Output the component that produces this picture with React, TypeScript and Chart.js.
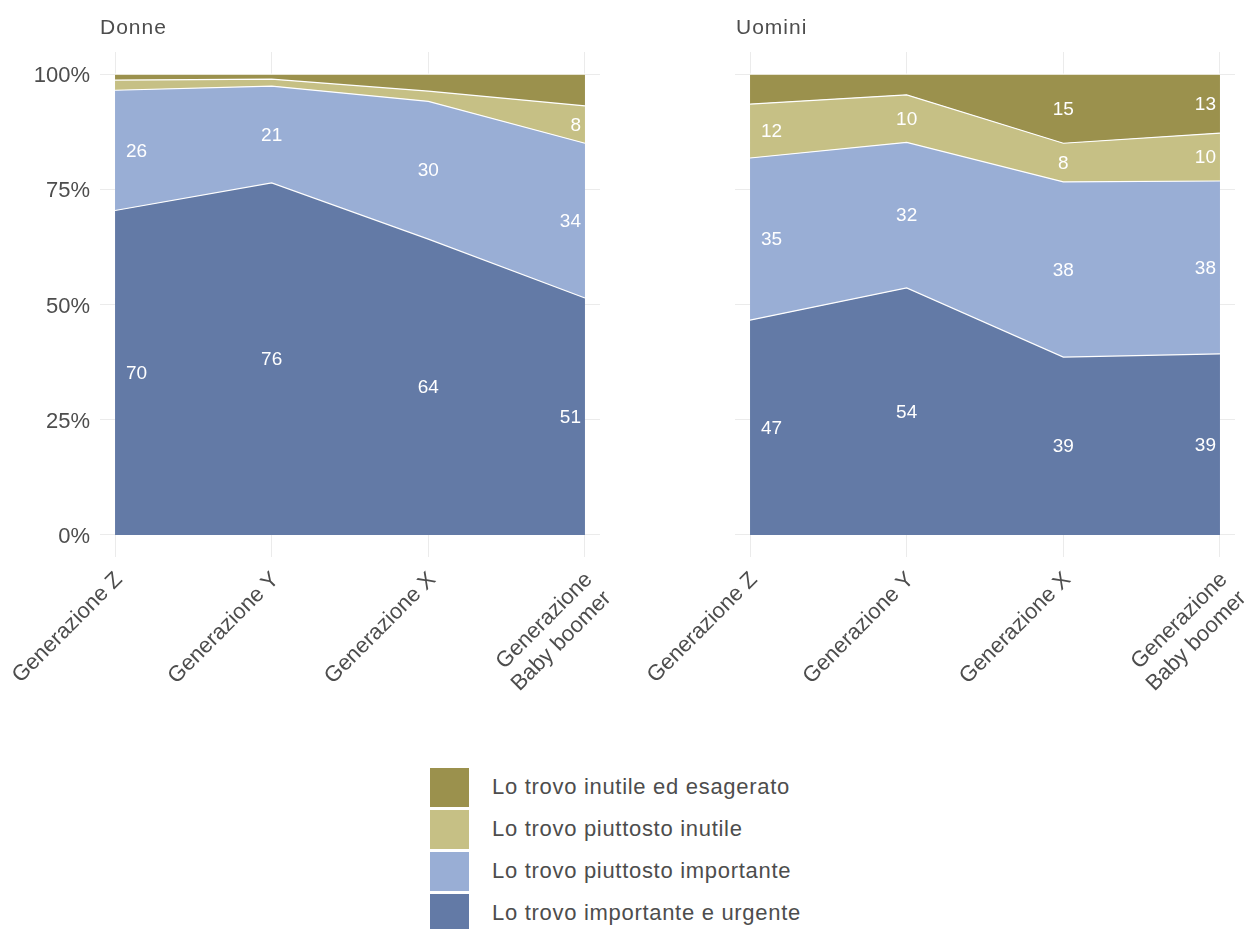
import React, { useEffect, useRef } from 'react';
import { Chart, registerables } from 'chart.js';
Chart.register(...registerables);

const categories: string[] = ['Generazione Z', 'Generazione Y', 'Generazione X', 'Generazione\nBaby boomer'];
const seriesNames: string[] = [
  'Lo trovo importante e urgente',
  'Lo trovo piuttosto importante',
  'Lo trovo piuttosto inutile',
  'Lo trovo inutile ed esagerato',
];
const seriesColors: string[] = ['#637aa6', '#99aed5', '#c6c085', '#9b914d'];
const yTicks: number[] = [0, 25, 50, 75, 100];

// Donne
const donneUrgente: number[] = [70.4, 76.4, 64.2, 51.4];
const donneImportante: number[] = [26.1, 21.0, 29.9, 33.6];
const donnePiuttostoInutile: number[] = [2.2, 1.5, 2.2, 8.1];
const donneInutile: number[] = [1.3, 1.1, 3.7, 6.9];

// Uomini
const uominiUrgente: number[] = [46.6, 53.6, 38.6, 39.3];
const uominiImportante: number[] = [35.2, 31.6, 38.0, 37.5];
const uominiPiuttostoInutile: number[] = [11.7, 10.3, 8.4, 10.4];
const uominiInutile: number[] = [6.5, 4.5, 15.0, 12.8];

const FONT = '"Liberation Sans", Arial, sans-serif';
const TEXT = '#4d4d4d';
const GRID = '#ebebeb';

const labelPlugin = {
  id: 'areaLabels',
  afterDatasetsDraw(chart: any) {
    const ctx = chart.ctx;
    const xs = chart.scales.x;
    const ys = chart.scales.y;
    const dsets = chart.data.datasets;
    const n = categories.length;
    ctx.save();
    ctx.fillStyle = '#ffffff';
    ctx.font = `19px ${FONT}`;
    ctx.textBaseline = 'middle';
    for (let j = 0; j < n; j++) {
      let cum = 0;
      for (let i = 0; i < dsets.length; i++) {
        const v = dsets[i].data[j].y as number;
        if (v >= 7.5) {
          let x = xs.getPixelForValue(j);
          if (j === 0) { ctx.textAlign = 'left'; x += 11; }
          else if (j === n - 1) { ctx.textAlign = 'right'; x -= 4; }
          else ctx.textAlign = 'center';
          const y = ys.getPixelForValue(cum + v / 2) + 1;
          ctx.fillText(String(Math.round(v)), x, y);
        }
        cum += v;
      }
    }
    ctx.restore();
  },
};

function Panel(props: { series: number[][]; showY: boolean; width: number; height: number; yWidth: number; padRight: number }) {
  const ref = useRef<HTMLCanvasElement>(null);
  useEffect(() => {
    const chart = new Chart(ref.current as HTMLCanvasElement, {
      type: 'line',
      data: {
        datasets: props.series.map((vals, i) => ({
          label: seriesNames[i],
          data: vals.map((v, j) => ({ x: j, y: v })),
          backgroundColor: seriesColors[i],
          borderColor: '#ffffff',
          borderWidth: 1.2,
          fill: i === 0 ? 'origin' : '-1',
          pointRadius: 0,
          tension: 0,
        })),
      },
      options: {
        animation: false,
        responsive: false,
        maintainAspectRatio: false,
        layout: { padding: { top: 52, right: props.padRight, left: 0, bottom: 0 } },
        plugins: { legend: { display: false }, tooltip: { enabled: false } },
        scales: {
          x: {
            type: 'linear',
            min: -0.096,
            max: 3.096,
            afterBuildTicks: (s: any) => { s.ticks = [0, 1, 2, 3].map((v) => ({ value: v })); },
            afterFit: (s: any) => { s.height = props.height - 557; s.paddingLeft = 0; s.paddingRight = 0; },
            ticks: {
              minRotation: 45,
              maxRotation: 45,
              autoSkip: false,
              padding: 10,
              labelOffset: 4,
              color: TEXT,
              font: { family: FONT, size: 22 },
              callback: (v: any) => categories[Math.round(Number(v))].split('\n'),
            },
            grid: { color: GRID, lineWidth: 1, drawTicks: false },
            border: { display: false },
          },
          y: {
            stacked: true,
            min: -4.8,
            max: 104.8,
            afterBuildTicks: (s: any) => { s.ticks = yTicks.map((v) => ({ value: v })); },
            afterFit: (s: any) => { s.width = props.yWidth; },
            ticks: {
              display: props.showY,
              padding: 10,
              labelOffset: 2,
              color: TEXT,
              font: { family: FONT, size: 22 },
              callback: (v: any) => `${v}%`,
            },
            grid: { color: GRID, lineWidth: 1, drawTicks: false },
            border: { display: false },
          },
        },
      } as any,
      plugins: [labelPlugin],
    });
    return () => chart.destroy();
  }, []);
  return <canvas ref={ref} width={props.width} height={props.height} style={{ width: props.width, height: props.height, display: 'block' }} />;
}

const legendOrder = [3, 2, 1, 0];

export default function App() {
  return (
    <div style={{ position: 'absolute', left: 0, top: 0, width: 1250, height: 929, background: '#fff', fontFamily: FONT, color: TEXT, overflow: 'hidden' }}>
      <div style={{ position: 'absolute', left: 0, top: 0 }}>
        <Panel series={[donneUrgente, donneImportante, donnePiuttostoInutile, donneInutile]} showY={true} width={620} height={740} yWidth={100} padRight={20} />
      </div>
      <div style={{ position: 'absolute', left: 620, top: 0 }}>
        <Panel series={[uominiUrgente, uominiImportante, uominiPiuttostoInutile, uominiInutile]} showY={false} width={630} height={740} yWidth={115} padRight={15} />
      </div>
      <div style={{ position: 'absolute', left: 100, top: 15, fontSize: 21, letterSpacing: 1, lineHeight: '24px' }}>Donne</div>
      <div style={{ position: 'absolute', left: 736, top: 15, fontSize: 21, letterSpacing: 1, lineHeight: '24px' }}>Uomini</div>
      <div style={{ position: 'absolute', left: 430, top: 766 }}>
        {legendOrder.map((i) => (
          <div key={i} style={{ display: 'flex', alignItems: 'center', height: 42 }}>
            <div style={{ width: 39, height: 39, background: seriesColors[i], marginRight: 23 }} />
            <div style={{ fontSize: 22, letterSpacing: 0.7, lineHeight: '39px', marginTop: -2 }}>{seriesNames[i]}</div>
          </div>
        ))}
      </div>
    </div>
  );
}
